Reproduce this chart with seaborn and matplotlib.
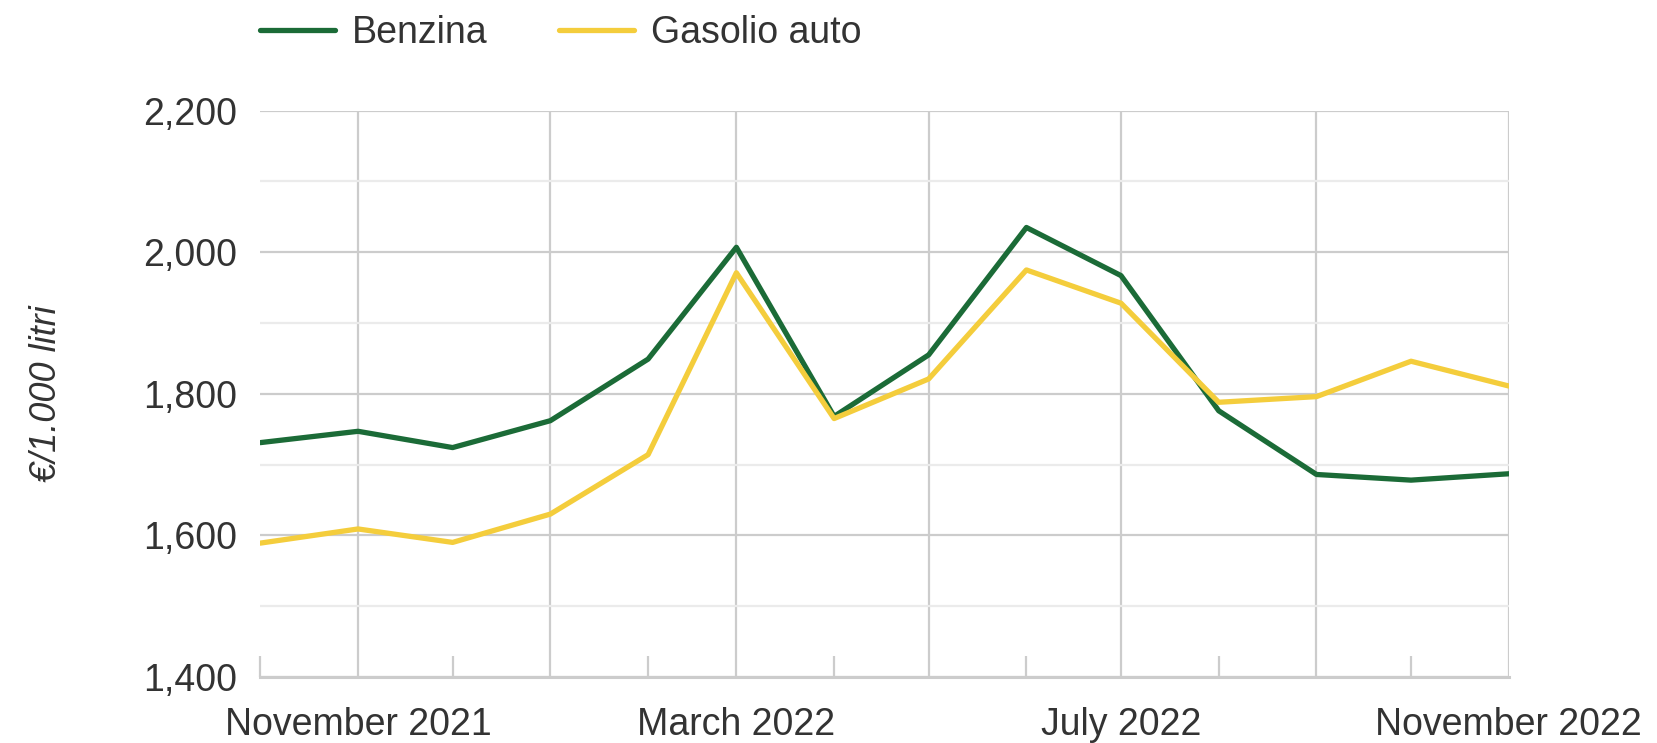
#!/bin/env python3

"""
Prezzi medi mensili di benzina e gasolio auto (euro per 1.000 litri)
"""

import pandas as pd
import matplotlib
matplotlib.use('Agg')
import matplotlib.pyplot as plt
import matplotlib.dates as mdates
from matplotlib.ticker import MultipleLocator, FuncFormatter
import seaborn as sns

sns.set_style('white')
plt.rcParams['font.family'] = ['Liberation Sans', 'DejaVu Sans']

# monthly values
months = ['2021-10-01', '2021-11-01', '2021-12-01', '2022-01-01', '2022-02-01',
          '2022-03-01', '2022-04-01', '2022-05-01', '2022-06-01', '2022-07-01',
          '2022-08-01', '2022-09-01', '2022-10-01', '2022-11-01']
benzina = [1731, 1747, 1724, 1762, 1849, 2007, 1768, 1855, 2035, 1967,
           1776, 1686, 1678, 1687]
gasolio = [1589, 1609, 1590, 1630, 1714, 1971, 1765, 1821, 1975, 1928,
           1788, 1796, 1846, 1811]
series_names = ['Benzina', 'Gasolio auto']
colours = ['#1b6b37', '#f4cd3c']
label_months = [11, 3, 7]
y_label = '€/1.000 litri'

text_col = '#333333'
grid_major = '#cccccc'
grid_minor = '#ebebeb'


def main(out_file):
    dates = pd.to_datetime(months)
    df = pd.concat([
        pd.DataFrame({'date': dates, 'value': benzina, 'serie': series_names[0]}),
        pd.DataFrame({'date': dates, 'value': gasolio, 'serie': series_names[1]}),
    ])

    fig = plt.figure(figsize=(16.58, 7.43), dpi=100)
    ax = fig.add_axes([0.157, 0.089, 0.753, 0.762])

    sns.lineplot(data=df, x='date', y='value', hue='serie', ax=ax,
                 palette=colours, linewidth=3.8, legend=True)

    ax.set_xlim(dates[0], dates[-1])
    ax.set_ylim(1400, 2200)

    # y axis
    ax.yaxis.set_major_locator(MultipleLocator(200))
    ax.yaxis.set_minor_locator(MultipleLocator(100))
    ax.yaxis.set_major_formatter(FuncFormatter(lambda v, p: f'{int(v):,}'))
    ax.grid(axis='y', which='major', color=grid_major, linewidth=1.6)
    ax.grid(axis='y', which='minor', color=grid_minor, linewidth=1.6)

    # x axis: grid every two months, short inner ticks on the others
    ax.xaxis.set_major_locator(mdates.MonthLocator(bymonth=[1, 3, 5, 7, 9, 11]))
    ax.xaxis.set_minor_locator(mdates.MonthLocator(bymonth=[2, 4, 6, 8, 10, 12]))
    ax.xaxis.set_major_formatter(FuncFormatter(
        lambda v, p: mdates.num2date(v).strftime('%B %Y')
        if mdates.num2date(v).month in label_months else ''))
    ax.grid(axis='x', which='major', color=grid_major, linewidth=1.6)

    ax.tick_params(axis='x', which='major', bottom=True, length=0, pad=22,
                   labelsize=27, labelcolor=text_col)
    ax.tick_params(axis='x', which='minor', bottom=True, direction='in',
                   length=15, width=1.6, color=grid_major)
    ax.tick_params(axis='y', which='both', length=0, pad=17,
                   labelsize=27, labelcolor=text_col)

    for side in ['top', 'right', 'left']:
        ax.spines[side].set_visible(False)
    ax.spines['bottom'].set_color(grid_major)
    ax.spines['bottom'].set_linewidth(2.2)

    ax.set_xlabel('')
    ax.set_ylabel(y_label, fontsize=26, color=text_col, style='italic', labelpad=57)
    ax.set_axisbelow(True)

    handles, labels = ax.get_legend_handles_labels()
    ax.legend_.remove()
    fig.legend(handles, labels, loc='center left', bbox_to_anchor=(0.157, 0.955),
               ncol=2, frameon=False, fontsize=27, labelcolor=text_col,
               borderpad=0, borderaxespad=0, handlelength=2.0,
               handletextpad=0.45, columnspacing=1.9)

    fig.savefig(out_file, dpi=100)
    plt.close(fig)


if __name__ == '__main__':
    main('out.png')
